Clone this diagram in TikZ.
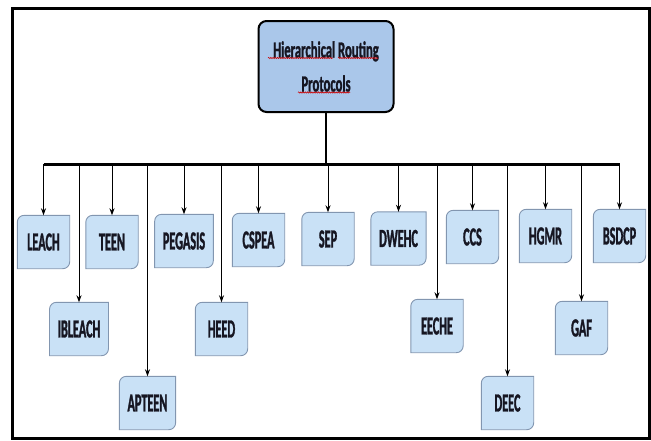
\documentclass[tikz,border=0pt]{standalone}
\usepackage{fontspec}
\newfontfamily\boxfont[FakeStretch=0.47,FakeBold=1.2]{Carlito}
\newfontfamily\rootfont[FakeStretch=0.55,FakeBold=1.2]{Carlito}
\usetikzlibrary{backgrounds,decorations.pathmorphing,arrows.meta}
\definecolor{boxfill}{HTML}{C9E1F6}
\definecolor{boxedge}{HTML}{8296B0}
\definecolor{rootfill}{HTML}{AAC7EA}
\definecolor{txt}{HTML}{161622}
\tikzset{
  proto/.style={minimum width=52pt, minimum height=53pt, inner xsep=8pt, text=txt,
    font=\boxfont\bfseries\fontsize{26}{26}\selectfont},
  protoshape/.style={fill=boxfill, draw=boxedge, line width=0.9pt},
  drop/.style={-{Stealth[length=7pt,width=5pt]}, line width=1pt},
  squiggle/.style={red!80!black, line width=0.6pt,
    decorate, decoration={snake, segment length=2.2pt, amplitude=0.6pt}}
}
\begin{document}
\begin{tikzpicture}[x=1pt, y=-1pt]
\useasboundingbox (0,0) rectangle (651,440);
\draw[line width=3pt] (12,8) rectangle (649.5,438.5);
\node[draw, line width=2pt, fill=rootfill, rounded corners=8pt, minimum width=135pt, minimum height=91pt,
  align=center, text=txt, font=\rootfont\bfseries\fontsize{23}{34}\selectfont] (root) at (326,66.5)
  {Hierarchical Routing\\Protocols};
\draw[squiggle] (268,58) -- (333,58);
\draw[squiggle] (338,58) -- (378,58);
\draw[squiggle] (298,92.5) -- (350,92.5);
\coordinate (bus) at (326,164);
\node[proto] (leach) at (43.5,242) {LEACH};
\node[proto] (ibleach) at (79,329) {IBLEACH};
\node[proto] (teen) at (112,242) {TEEN};
\node[proto] (apteen) at (147.5,403) {APTEEN};
\node[proto] (pegasis) at (184,241) {PEGASIS};
\node[proto] (heed) at (221.5,329) {HEED};
\node[proto] (cspea) at (258.5,240) {CSPEA};
\node[proto] (sep) at (328,239) {SEP};
\node[proto] (dwehc) at (398.5,238.5) {DWEHC};
\node[proto] (eeche) at (437,326) {EECHE};
\node[proto] (ccs) at (472.5,237) {CCS};
\node[proto] (deec) at (507.5,403) {DEEC};
\node[proto] (hgmr) at (545.5,236) {HGMR};
\node[proto] (gaf) at (581.5,328) {GAF};
\node[proto] (bsdcp) at (619.5,236) {BSDCP};
\begin{scope}[on background layer]
\foreach \n in {leach,ibleach,teen,apteen,pegasis,heed,cspea,sep,dwehc,eeche,ccs,deec,hgmr,gaf,bsdcp}
  \filldraw[protoshape] (\n.north east) -- ([yshift=7pt]\n.south east)
    .. controls ([yshift=3pt]\n.south east) and ([xshift=-3pt]\n.south east) .. ([xshift=-7pt]\n.south east)
    -- (\n.south west) -- ([yshift=-7pt]\n.north west)
    .. controls ([yshift=-3pt]\n.north west) and ([xshift=3pt]\n.north west) .. ([xshift=7pt]\n.north west) -- cycle;
\end{scope}
\draw[line width=2pt] (root) -- (root |- bus);
\draw[line width=3pt] (leach.north |- bus) -- (bsdcp.north |- bus);
\foreach \n in {leach,ibleach,teen,apteen,pegasis,heed,cspea,sep,dwehc,eeche,ccs,deec,hgmr,gaf,bsdcp}
  \draw[drop] (\n.north |- bus) -- (\n);
\end{tikzpicture}
\end{document}
